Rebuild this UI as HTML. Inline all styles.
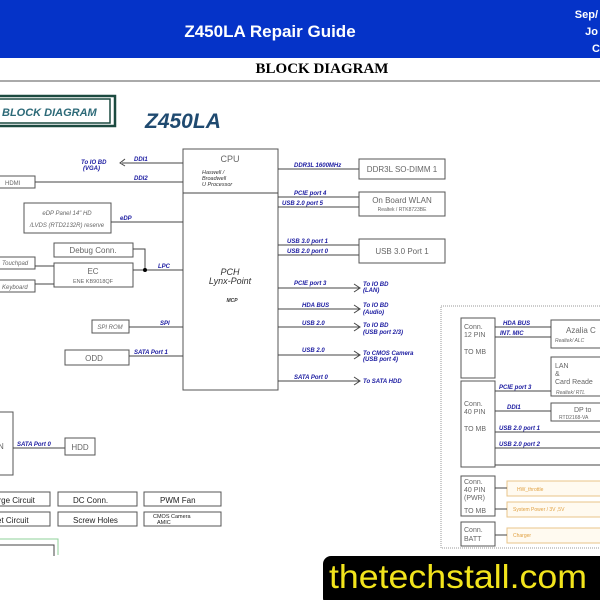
<!DOCTYPE html>
<html><head><style>
html,body{margin:0;padding:0;background:#fff;width:600px;height:600px;overflow:hidden}
svg{display:block}
.b{fill:#fff;stroke:#555;stroke-width:1}
.t{font-family:"Liberation Sans",sans-serif;fill:#666}
.s{font-family:"Liberation Sans",sans-serif;font-size:6px;font-weight:bold;font-style:italic;fill:#1a1aa0}
.p{font-family:"Liberation Sans",sans-serif;font-size:3.5px;fill:#555}
.l{stroke:#444;stroke-width:1;fill:none}
</style></head><body>
<svg width="600" height="600" viewBox="0 0 600 600">
<rect x="0" y="0" width="600" height="58" fill="#0533c8"/>
<text x="270" y="37" text-anchor="middle" font-family="Liberation Sans" font-weight="bold" font-size="17" fill="#fff">Z450LA Repair Guide</text>
<text x="598" y="18" text-anchor="end" font-family="Liberation Sans" font-weight="bold" font-size="11" fill="#fff">Sep/</text>
<text x="598" y="35" text-anchor="end" font-family="Liberation Sans" font-weight="bold" font-size="11" fill="#fff">Jo</text>
<text x="600" y="52" text-anchor="end" font-family="Liberation Sans" font-weight="bold" font-size="11" fill="#fff">C</text>
<text x="322" y="73" text-anchor="middle" font-family="Liberation Serif" font-weight="bold" font-size="15" fill="#000">BLOCK DIAGRAM</text>
<line x1="0" y1="81" x2="600" y2="81" stroke="#555" stroke-width="1"/>
<rect x="-2" y="96" width="117" height="30" fill="#fff" stroke="#1c4a40" stroke-width="2.5"/>
<rect x="-2" y="99" width="112" height="24" fill="#fff" stroke="#1c4a40" stroke-width="1.5"/>
<text x="2" y="116" font-family="Liberation Sans" font-weight="bold" font-style="italic" font-size="11" fill="#2d6a78">BLOCK DIAGRAM</text>
<text x="145" y="128" font-family="Liberation Sans" font-weight="bold" font-style="italic" font-size="21" fill="#1f4a70">Z450LA</text>

<rect class="b" x="183" y="149" width="95" height="241"/>
<line class="l" x1="183" y1="193" x2="278" y2="193"/>
<text class="t" x="230" y="162" text-anchor="middle" font-size="9" fill="#333">CPU</text>
<text class="t" x="202" y="174" font-size="5.5" style="fill:#333;font-style:italic">Haswell /</text>
<text class="t" x="202" y="180" font-size="5.5" style="fill:#333;font-style:italic">Broadwell</text>
<text class="t" x="202" y="186" font-size="5.5" style="fill:#333;font-style:italic">U Processor</text>
<text class="t" x="230" y="275" text-anchor="middle" font-size="9" style="fill:#333;font-style:italic">PCH</text>
<text class="t" x="230" y="284" text-anchor="middle" font-size="9" style="fill:#333;font-style:italic">Lynx-Point</text>
<text class="t" x="232" y="302" text-anchor="middle" font-size="5" style="fill:#333;font-style:italic;font-weight:bold">MCP</text>

<line class="l" x1="122" y1="163" x2="183" y2="163"/>
<text class="s" x="81" y="164">To IO BD</text><text class="s" x="83" y="170">(VGA)</text>
<text class="s" x="134" y="161">DDI1</text>
<path d="M125 159 L120 163 L125 166" class="l"/>
<rect class="b" x="-1" y="176" width="36" height="12"/><text class="t" x="5" y="185" font-size="6">HDMI</text>
<line class="l" x1="35" y1="182" x2="183" y2="182"/><text class="s" x="134" y="180">DDI2</text>
<rect class="b" x="24" y="203" width="87" height="30"/>
<text class="t" x="67" y="215" text-anchor="middle" font-size="6" style="font-style:italic">eDP Panel  14" HD</text>
<text class="t" x="67" y="227" text-anchor="middle" font-size="6" style="font-style:italic">/LVDS (RTD2132R)  reserve</text>
<line class="l" x1="111" y1="222" x2="183" y2="222"/><text class="s" x="120" y="220">eDP</text>
<rect class="b" x="54" y="243" width="79" height="14"/><text class="t" x="93" y="253" text-anchor="middle" font-size="8">Debug Conn.</text>
<rect class="b" x="54" y="263" width="79" height="24"/>
<text class="t" x="93" y="274" text-anchor="middle" font-size="8">EC</text>
<text class="t" x="93" y="283" text-anchor="middle" font-size="5.5">ENE KB9018QF</text>
<path class="l" d="M133 249 H145 V270"/><line class="l" x1="133" y1="270" x2="183" y2="270"/>
<circle cx="145" cy="270" r="2" fill="#000"/><text class="s" x="158" y="268">LPC</text>
<rect class="b" x="-1" y="257" width="36" height="12"/><text class="t" x="2" y="265" font-size="6" style="font-style:italic">Touchpad</text>
<rect class="b" x="-1" y="280" width="36" height="12"/><text class="t" x="2" y="289" font-size="6" style="font-style:italic">Keyboard</text>
<line class="l" x1="35" y1="266" x2="54" y2="266"/><line class="l" x1="35" y1="284" x2="54" y2="284"/>
<rect class="b" x="92" y="320" width="37" height="13"/><text class="t" x="110" y="329" text-anchor="middle" font-size="6" style="font-style:italic">SPI ROM</text>
<line class="l" x1="129" y1="327" x2="183" y2="327"/><text class="s" x="160" y="325">SPI</text>
<rect class="b" x="65" y="350" width="64" height="15"/><text class="t" x="94" y="361" text-anchor="middle" font-size="8">ODD</text>
<line class="l" x1="129" y1="356" x2="183" y2="356"/><text class="s" x="134" y="354">SATA Port 1</text>

<line class="l" x1="278" y1="169" x2="359" y2="169"/><text class="s" x="294" y="167">DDR3L 1600MHz</text>
<rect class="b" x="359" y="159" width="86" height="20"/><text class="t" x="402" y="172" text-anchor="middle" font-size="8">DDR3L SO-DIMM 1</text>
<line class="l" x1="278" y1="197" x2="359" y2="197"/><line class="l" x1="278" y1="207" x2="359" y2="207"/>
<text class="s" x="294" y="195">PCIE port 4</text><text class="s" x="282" y="205">USB 2.0 port 5</text>
<rect class="b" x="359" y="192" width="86" height="24"/>
<text class="t" x="402" y="203" text-anchor="middle" font-size="8">On Board WLAN</text>
<text class="t" x="402" y="211" text-anchor="middle" font-size="5">Realtek / RTK8723BE</text>
<line class="l" x1="278" y1="245" x2="359" y2="245"/><line class="l" x1="278" y1="255" x2="359" y2="255"/>
<text class="s" x="287" y="243">USB 3.0 port 1</text><text class="s" x="287" y="253">USB 2.0 port 0</text>
<rect class="b" x="359" y="239" width="86" height="24"/><text class="t" x="402" y="254" text-anchor="middle" font-size="8">USB 3.0 Port 1</text>
<g>
<line class="l" x1="278" y1="288" x2="359" y2="288"/><path class="l" d="M354 284 L360 288 L354 292"/><text class="s" x="294" y="285">PCIE port 3</text><text class="s" x="363" y="286">To IO BD</text><text class="s" x="363" y="292">(LAN)</text>
<line class="l" x1="278" y1="309" x2="359" y2="309"/><path class="l" d="M354 305 L360 309 L354 313"/><text class="s" x="302" y="307">HDA BUS</text><text class="s" x="363" y="307">To IO BD</text><text class="s" x="363" y="314">(Audio)</text>
<line class="l" x1="278" y1="327" x2="359" y2="327"/><path class="l" d="M354 323 L360 327 L354 331"/><text class="s" x="302" y="325">USB 2.0</text><text class="s" x="363" y="327">To IO BD</text><text class="s" x="363" y="334">(USB port 2/3)</text>
<line class="l" x1="278" y1="355" x2="359" y2="355"/><path class="l" d="M354 351 L360 355 L354 359"/><text class="s" x="302" y="352">USB 2.0</text><text class="s" x="363" y="355">To CMOS Camera</text><text class="s" x="363" y="361">(USB port 4)</text>
<line class="l" x1="278" y1="381" x2="359" y2="381"/><path class="l" d="M354 377 L360 381 L354 385"/><text class="s" x="294" y="379">SATA Port 0</text><text class="s" x="363" y="383">To SATA HDD</text>
</g>

<rect x="441" y="306" width="165" height="242" fill="none" stroke="#999" stroke-dasharray="1,1"/>
<rect class="b" x="461" y="318" width="34" height="60"/>
<text class="t" x="464" y="329" font-size="7">Conn.</text><text class="t" x="464" y="337" font-size="7">12 PIN</text><text class="t" x="464" y="354" font-size="7">TO MB</text>
<rect class="b" x="461" y="381" width="34" height="86"/>
<text class="t" x="464" y="406" font-size="7">Conn.</text><text class="t" x="464" y="414" font-size="7">40 PIN</text><text class="t" x="464" y="431" font-size="7">TO MB</text>
<rect class="b" x="551" y="320" width="55" height="28"/><text class="t" x="566" y="333" font-size="8">Azalia C</text><text class="t" x="555" y="342" font-size="5" style="font-style:italic">Realtek/ ALC</text>
<rect class="b" x="551" y="357" width="55" height="39"/><text class="t" x="555" y="368" font-size="7">LAN</text><text class="t" x="555" y="376" font-size="7">&amp;</text><text class="t" x="555" y="384" font-size="7">Card Reade</text><text class="t" x="556" y="394" font-size="5" style="font-style:italic">Realtek/ RTL</text>
<rect class="b" x="551" y="403" width="55" height="18"/><text class="t" x="574" y="412" font-size="7">DP to</text><text class="t" x="559" y="419" font-size="5">RTD2168-VA</text>
<line class="l" x1="495" y1="327" x2="551" y2="327"/><line class="l" x1="495" y1="337" x2="551" y2="337"/>
<text class="s" x="503" y="325">HDA BUS</text><text class="s" x="500" y="335">INT. MIC</text>
<line class="l" x1="495" y1="391" x2="551" y2="391"/><text class="s" x="499" y="389">PCIE port 3</text>
<line class="l" x1="495" y1="411" x2="551" y2="411"/><text class="s" x="507" y="409">DDI1</text>
<line class="l" x1="495" y1="432" x2="606" y2="432"/><text class="s" x="499" y="430">USB 2.0 port 1</text>
<line class="l" x1="495" y1="448" x2="606" y2="448"/><text class="s" x="499" y="446">USB 2.0 port 2</text>
<line class="l" x1="495" y1="465" x2="606" y2="465"/>
<rect class="b" x="461" y="476" width="34" height="40"/>
<text class="t" x="464" y="484" font-size="7">Conn.</text><text class="t" x="464" y="492" font-size="7">40 PIN</text><text class="t" x="464" y="500" font-size="7">(PWR)</text><text class="t" x="464" y="513" font-size="7">TO MB</text>
<rect class="b" x="461" y="522" width="34" height="24"/>
<text class="t" x="464" y="532" font-size="7">Conn.</text><text class="t" x="464" y="541" font-size="7">BATT</text>
<rect x="507" y="481" width="99" height="15" fill="#fffaf0" stroke="#e8c48a"/><text x="517" y="491" font-family="Liberation Sans" font-size="5" fill="#e0a040">HW_throttle</text>
<rect x="507" y="502" width="99" height="15" fill="#fffaf0" stroke="#e8c48a"/><text x="513" y="511" font-family="Liberation Sans" font-size="5" fill="#e0a040">System Power / 3V ,5V</text>
<rect x="507" y="528" width="99" height="15" fill="#fffaf0" stroke="#e8c48a"/><text x="513" y="537" font-family="Liberation Sans" font-size="5" fill="#e0a040">Charger</text>
<line class="l" x1="495" y1="488" x2="507" y2="488"/><line class="l" x1="495" y1="509" x2="507" y2="509"/><line class="l" x1="495" y1="535" x2="507" y2="535"/>

<rect class="b" x="-2" y="412" width="15" height="63"/><text class="t" x="-2" y="449" font-size="8">N</text>
<line class="l" x1="13" y1="448" x2="65" y2="448"/><text class="s" x="17" y="446">SATA Port 0</text>
<rect class="b" x="65" y="438" width="30" height="17"/><text class="t" x="80" y="450" text-anchor="middle" font-size="8">HDD</text>
<rect class="b" x="-2" y="492" width="52" height="14"/><text x="-6" y="503" font-family="Liberation Sans" font-size="8" fill="#222">arge Circuit</text>
<rect class="b" x="-2" y="512" width="52" height="14"/><text x="-3" y="523" font-family="Liberation Sans" font-size="8" fill="#222">et Circuit</text>
<rect class="b" x="58" y="492" width="79" height="14"/><text x="73" y="503" font-family="Liberation Sans" font-size="8" fill="#222">DC  Conn.</text>
<rect class="b" x="58" y="512" width="79" height="14"/><text x="73" y="523" font-family="Liberation Sans" font-size="8" fill="#222">Screw Holes</text>
<rect class="b" x="144" y="492" width="77" height="14"/><text x="160" y="503" font-family="Liberation Sans" font-size="8" fill="#222">PWM Fan</text>
<rect class="b" x="144" y="512" width="77" height="14"/><text x="153" y="518" font-family="Liberation Sans" font-size="5.5" fill="#222">CMOS Camera</text><text x="157" y="524" font-family="Liberation Sans" font-size="5.5" fill="#222">AMIC</text>
<path d="M-2 539 H58 V555" stroke="#8fd09a" fill="none"/>
<path d="M-2 545 H54 V556" stroke="#444" fill="none"/>

<rect x="323" y="556" width="290" height="50" rx="8" fill="#000"/>
<text x="329" y="588" font-family="Liberation Sans" font-size="33" fill="#f2e41c" textLength="258" lengthAdjust="spacingAndGlyphs">thetechstall.com</text>
</svg>
</body></html>
